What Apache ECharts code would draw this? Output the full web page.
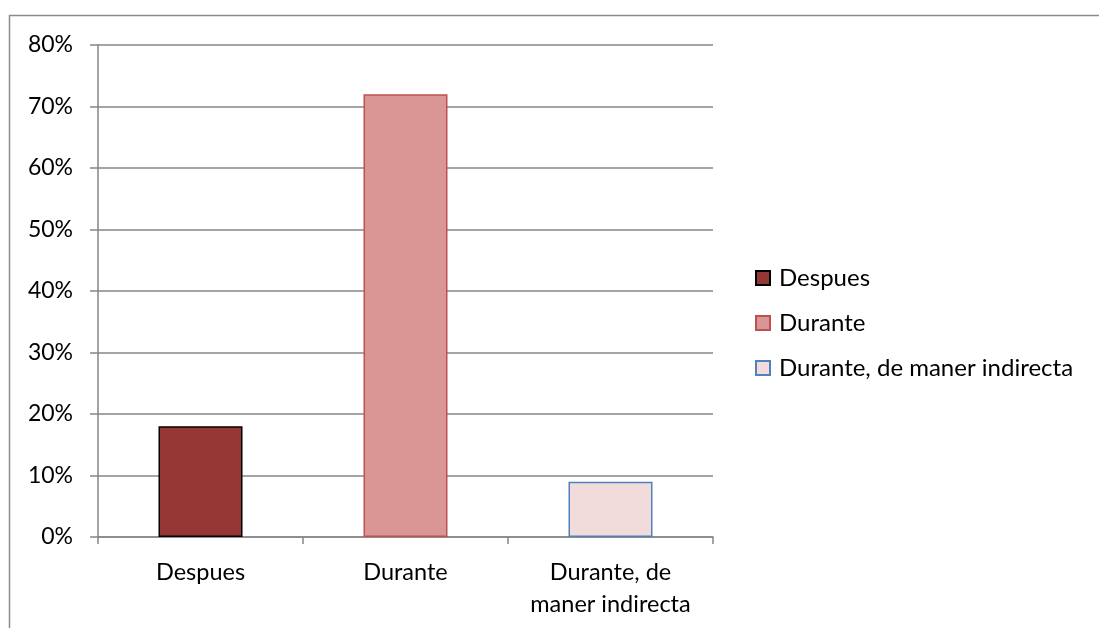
<!DOCTYPE html>
<html><head><meta charset="utf-8">
<script src="https://cdn.jsdelivr.net/npm/echarts@6/dist/echarts.min.js"></script>
<style>html,body{margin:0;padding:0;background:#fff}#c{width:1099px;height:628px}</style>
</head><body><div id="c"></div>
<script>
const categories = ['Despues', 'Durante', 'Durante, de maner indirecta'];
const values = [0.18, 0.72, 0.09];
const yTicks = [0, 0.1, 0.2, 0.3, 0.4, 0.5, 0.6, 0.7, 0.8];
const fills = ['#953735', '#D99694', '#F2DCDB'];
const borders = ['#000000', '#C0504D', '#4F81BD'];

const chart = echarts.init(document.getElementById('c'));
const series = categories.map((name, i) => ({
  name: name,
  type: 'bar',
  stack: 'all',
  barWidth: 84,
  data: categories.map((c, j) => j === i ? values[i] : '-'),
  itemStyle: { color: fills[i], borderColor: borders[i], borderWidth: 1.5 },
  emphasis: { disabled: true }
}));
chart.setOption({
  animation: false,
  textStyle: { fontFamily: 'Lato' },
  graphic: [{
    type: 'rect', shape: { x: 9.5, y: 15.5, width: 1200, height: 700 },
    style: { fill: 'none', stroke: '#8c8c8c', lineWidth: 1.5 }, silent: true
  }],
  grid: { left: 98, right: 386, top: 45, bottom: 91 },
  legend: {
    orient: 'vertical', left: 755, top: 266, itemGap: 21, padding: 0,
    icon: 'rect', itemWidth: 14, itemHeight: 14,
    textStyle: { fontSize: 24, color: '#000', fontFamily: 'Lato', padding: [0, 0, 0, 4] },
    data: categories
  },
  xAxis: {
    type: 'category', data: categories,
    axisLine: { lineStyle: { color: '#868686', width: 1.5 } },
    axisTick: { show: true, interval: 0, length: 7, lineStyle: { color: '#868686', width: 1.5 } },
    axisLabel: {
      interval: 0, hideOverlap: false,
      fontSize: 23.5, color: '#000', margin: 19, lineHeight: 32,
      formatter: v => v.replace(', de ', ', de\n')
    }
  },
  yAxis: {
    type: 'value', min: 0, max: 0.8, interval: 0.1,
    axisLine: { show: true, lineStyle: { color: '#868686', width: 1.5 } },
    axisTick: { show: true, length: 8, lineStyle: { color: '#868686', width: 1.5 } },
    splitLine: { lineStyle: { color: '#868686', width: 1.5 } },
    axisLabel: {
      fontSize: 23, color: '#000', margin: 25,
      formatter: v => Math.round(v * 100) + '%'
    }
  },
  series: series
});
</script></body></html>
